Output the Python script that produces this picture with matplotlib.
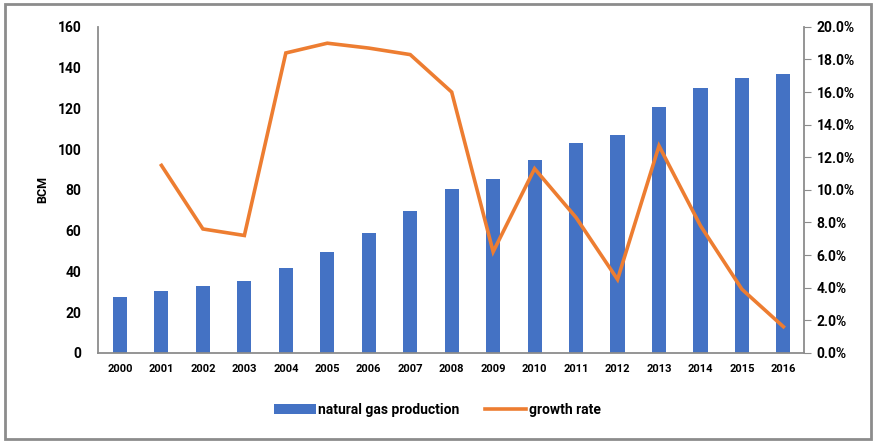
import matplotlib

matplotlib.use("Agg")
import matplotlib.pyplot as plt
from matplotlib.patches import Rectangle
from matplotlib.ticker import PercentFormatter

years = [str(y) for y in range(2000, 2017)]
production = [27.5, 30.4, 32.8, 35.3, 41.7, 49.5, 58.8, 69.6, 80.4, 85.3,
              94.6, 102.9, 107.0, 120.6, 130.0, 135.0, 137.0]
growth_years = years[1:]
growth = [11.5, 7.6, 7.2, 18.4, 19.0, 18.7, 18.3, 16.0, 6.2, 11.3,
          8.3, 4.5, 12.7, 7.8, 3.9, 1.6]

BLUE, ORANGE, GREY = "#4472C4", "#ED7D31", "#8c8c8c"
plt.rcParams["font.family"] = ["Roboto", "DejaVu Sans"]
plt.rcParams["font.weight"] = "bold"

fig = plt.figure(figsize=(8.75, 4.41), dpi=100)
ax = fig.add_axes([0.112, 0.200, 0.807, 0.739])
ax2 = ax.twinx()

x = list(range(len(years)))
ax.bar(x, production, width=0.34, color=BLUE, label="natural gas production", zorder=2)
gx = [years.index(y) for y in growth_years]
ax2.plot(gx, growth, color=ORANGE, lw=2.6, label="growth rate", solid_joinstyle="miter")

ax.set_xlim(-0.53, 16.5)
ax.set_ylim(0, 160)
ax.set_yticks(range(0, 161, 20))
ax2.set_ylim(0, 20)
ax2.set_yticks(range(0, 21, 2))
ax2.yaxis.set_major_formatter(PercentFormatter(decimals=1))
ax.set_xticks(x, years)
ax.set_ylabel("BCM", fontsize=9, fontweight="bold", labelpad=6)

for a in (ax, ax2):
    a.spines["top"].set_visible(False)
    for s in a.spines.values():
        s.set_color(GREY)
        s.set_linewidth(1.3)
ax.spines["right"].set_visible(False)
ax2.spines["left"].set_visible(False)
ax2.spines["bottom"].set_visible(False)
ax.tick_params(axis="y", length=0, labelsize=10, pad=12)
ax.tick_params(axis="x", length=0, labelsize=8, pad=8)
ax2.tick_params(axis="y", length=5, color=GREY, labelsize=10, pad=4)
for lbl in ax.get_xticklabels() + ax.get_yticklabels() + ax2.get_yticklabels():
    lbl.set_fontweight("bold")

h1, l1 = ax.get_legend_handles_labels()
h2, l2 = ax2.get_legend_handles_labels()
fig.legend(h1 + h2, l1 + l2, loc="center", bbox_to_anchor=(0.5, 0.07), ncol=2,
           frameon=False, prop={"size": 10, "weight": "bold"}, handlelength=3.0,
           columnspacing=1.8, handletextpad=0.2)

fig.patches.append(Rectangle((0.006, 0.004), 0.989, 0.986, transform=fig.transFigure,
                             fill=False, edgecolor=GREY, lw=2))
fig.savefig("out.png", dpi=100)
